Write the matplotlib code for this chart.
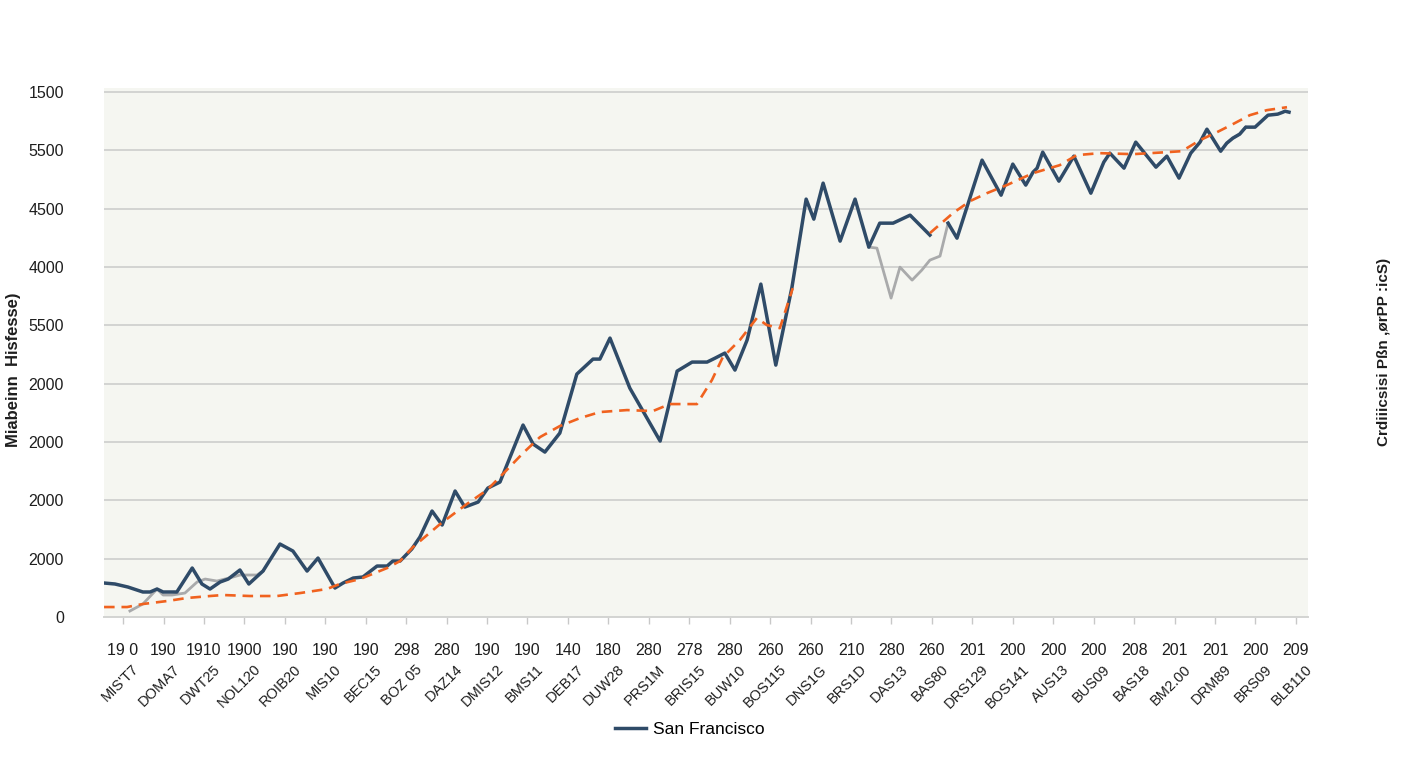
import matplotlib
matplotlib.use("Agg")
import matplotlib.pyplot as plt
import numpy as np

plt.rcParams['font.family'] = ['Liberation Sans', 'DejaVu Sans']

# tick labels (as printed in the chart)
tick_numbers = ["19 0", "190", "1910", "1900", "190", "190", "190", "298", "280", "190",
                "190", "140", "180", "280", "278", "280", "260", "260", "210", "280",
                "260", "201", "200", "200", "200", "208", "201", "201", "200", "209"]
tick_codes = ["MIS'T7", "DOMA7", "DWT25", "NOL120", "ROIB20", "MIS10", "BEC15", "BOZ 05",
              "DAZ14", "DMIS12", "BMS11", "DEB17", "DUW28", "PRS1M", "BRIS15", "BUW10",
              "BOS115", "DNS1G", "BRS1D", "DAS13", "BAS80", "DRS129", "BOS141", "AUS13",
              "BUS09", "BAS18", "BM2.00", "DRM89", "BRS09", "BLB110"]
ytick_labels = ["0", "2000", "2000", "2000", "2000", "5500", "4000", "4500", "5500", "1500"]

# San Francisco (navy) - position in tick units, value
sf_x = [-0.47, -0.20, 0.12, 0.49, 0.67, 0.84, 0.99, 1.33, 1.71, 1.95, 2.15, 2.40, 2.60, 2.89,
        3.11, 3.46, 3.88, 4.20, 4.55, 4.82, 5.24, 5.44, 5.69, 5.93, 6.28, 6.53, 6.67, 6.85,
        7.14, 7.34, 7.64, 7.89, 8.21, 8.45, 8.78, 9.02, 9.32, 9.89, 10.14, 10.43, 10.80,
        11.22, 11.62, 11.79, 12.04, 12.53, 13.28, 13.70, 14.07, 14.44, 14.64, 14.88, 15.13,
        15.43, 15.77, 16.14, 16.54, 16.89, 17.08, 17.31, 17.73, 18.10, 18.44, 18.71, 19.04,
        19.46, 19.95, 20.20, 20.40, 20.62, 21.24, 21.71, 22.00, 22.32, 22.50, 22.60, 22.74,
        23.14, 23.51, 23.93, 24.25, 24.40, 24.75, 25.04, 25.54, 25.81, 26.11, 26.40, 26.63,
        26.80, 27.14, 27.29, 27.44, 27.61, 27.76, 27.99, 28.31, 28.55, 28.68, 28.73, 28.83]
sf_y = [583, 566, 514, 429, 429, 480, 429, 429, 840, 566, 480, 600, 651, 806,
        566, 788, 1251, 1131, 788, 1011, 497, 583, 668, 686, 874, 874, 960, 960,
        1166, 1371, 1817, 1577, 2160, 1885, 1971, 2211, 2314, 3291, 2965, 2828, 3154,
        4165, 4422, 4422, 4782, 3925, 3017, 4216, 4371, 4371, 4439, 4525, 4234,
        4748, 5708, 4319, 5656, 7165, 6822, 7439, 6445, 7165, 6342, 6753, 6753,
        6890, 6548, np.nan, 6753, 6496, 7833, 7233, 7765, 7405, 7627, 7696, 7970,
        7473, 7902, 7267, 7799, 7953, 7696, 8142, 7713, 7902, 7525, 7953, 8142,
        8364, 7987, 8124, 8210, 8279, 8399, 8399, 8604, 8622, 8656, 8673, 8656]

# grey comparison series (partial)
grey_x = [0.17, 0.49, 0.84, 0.99, 1.21, 1.53, 1.83, 2.03, 2.32, 2.72, 2.89, 3.31, 3.46,
          np.nan,
          18.44, 18.64, 18.99, 19.21, 19.51, 19.75, 19.95, 20.20, 20.40,
          np.nan,
          27.14, 27.29, 27.44, 27.61, 27.76]
grey_y = [103, 223, 480, 377, 377, 411, 600, 651, 617, 686, 720, 720, 788,
          np.nan,
          6342, 6325, 5468, 5999, 5776, 5948, 6119, 6188, 6753,
          np.nan,
          7987, 8124, 8210, 8279, 8399]

# orange dashed trend
trend_x = [-0.47, 0.10, 0.49, 1.09, 1.58, 2.15, 2.47, 3.14, 3.81, 4.38, 5.04, 5.36, 5.86,
           6.53, 6.85, 7.17, 7.84, 8.50, 9.00, 9.39, 9.89, 10.31, 10.80, 11.30, 11.79,
           12.46, 13.10, 13.52, 14.19, 14.56, 14.83, 15.25, 15.67, 15.92, 16.24, 16.56,
           18.0,
           19.95, 20.52, 20.94, 21.36, 21.85, 22.50, 23.16, 23.58, 24.15, 24.97, 25.81,
           26.18, 26.63, 27.05, 27.44, 27.86, 28.28, 28.78]
trend_y = [171, 171, 223, 274, 326, 360, 377, 360, 360, 411, 480, 566, 651,
           840, 960, 1200, 1594, 1937, 2177, 2451, 2811, 3085, 3274, 3411, 3514,
           3548, 3531, 3651, 3651, 4062, 4456, 4748, 5125, 5005, 4953, 5639,
           np.nan,
           6582, 6925, 7130, 7267, 7405, 7610, 7747, 7919, 7953, 7936, 7970,
           7987, 8176, 8313, 8450, 8604, 8690, 8741]

navy = '#2f4b68'
orange = '#f0621f'
grey = '#a9aaab'

fig = plt.figure(figsize=(14.08, 7.68), dpi=100)
ax = fig.add_axes([0.0739, 0.1966, 0.8551, 0.6888])
ax.set_facecolor('#f5f6f1')

ax.plot(grey_x, grey_y, color=grey, linewidth=2.0, zorder=3)
ax.plot(sf_x, sf_y, color=navy, linewidth=2.5, zorder=4, label='San Francisco')
ax.plot(trend_x, trend_y, color=orange, linewidth=1.9, dashes=(4, 2.6), zorder=5)

ax.set_xlim(-0.47, 29.3)
ax.set_ylim(0, 9070)
ax.set_yticks(np.arange(0, 10000, 1000))
ax.set_yticklabels(ytick_labels, fontsize=11.5, color='#1e1e1e')
ax.yaxis.grid(True, color='#d3d4d2', linewidth=1.4)
ax.set_axisbelow(True)
ax.tick_params(axis='y', length=0, pad=29)

ax.set_xticks(range(len(tick_numbers)))
ax.set_xticklabels(tick_numbers, fontsize=11.5, color='#1e1e1e')
ax.tick_params(axis='x', length=5, width=1, color='#c8c8c8', pad=14)

for side in ['top', 'left', 'right']:
    ax.spines[side].set_visible(False)
ax.spines['bottom'].set_color('#d3d4d2')
ax.spines['bottom'].set_linewidth(1.4)

for i, code in enumerate(tick_codes):
    ax.annotate(code, xy=(i, 0), xycoords=('data', 'axes fraction'),
                xytext=(10, -36), textcoords='offset points',
                rotation=45, rotation_mode='anchor', ha='right', va='center',
                fontsize=10.5, color='#1e1e1e')

fig.text(0.004, 0.518, 'Miabeinn  Hisfesse)', rotation=90, ha='left', va='center',
         fontsize=12, fontweight='bold', color='#1e1e1e')
fig.text(0.978, 0.542, 'Crdiiicsisi Pßn ,ørPP :icS)', rotation=90, ha='left', va='center',
         fontsize=11, fontweight='bold', color='#1e1e1e')

fig.legend(loc='center', bbox_to_anchor=(0.49, 0.05), frameon=False, fontsize=12.5,
           handlelength=1.8, handletextpad=0.4)

fig.savefig('out.png', dpi=100, facecolor='white')
